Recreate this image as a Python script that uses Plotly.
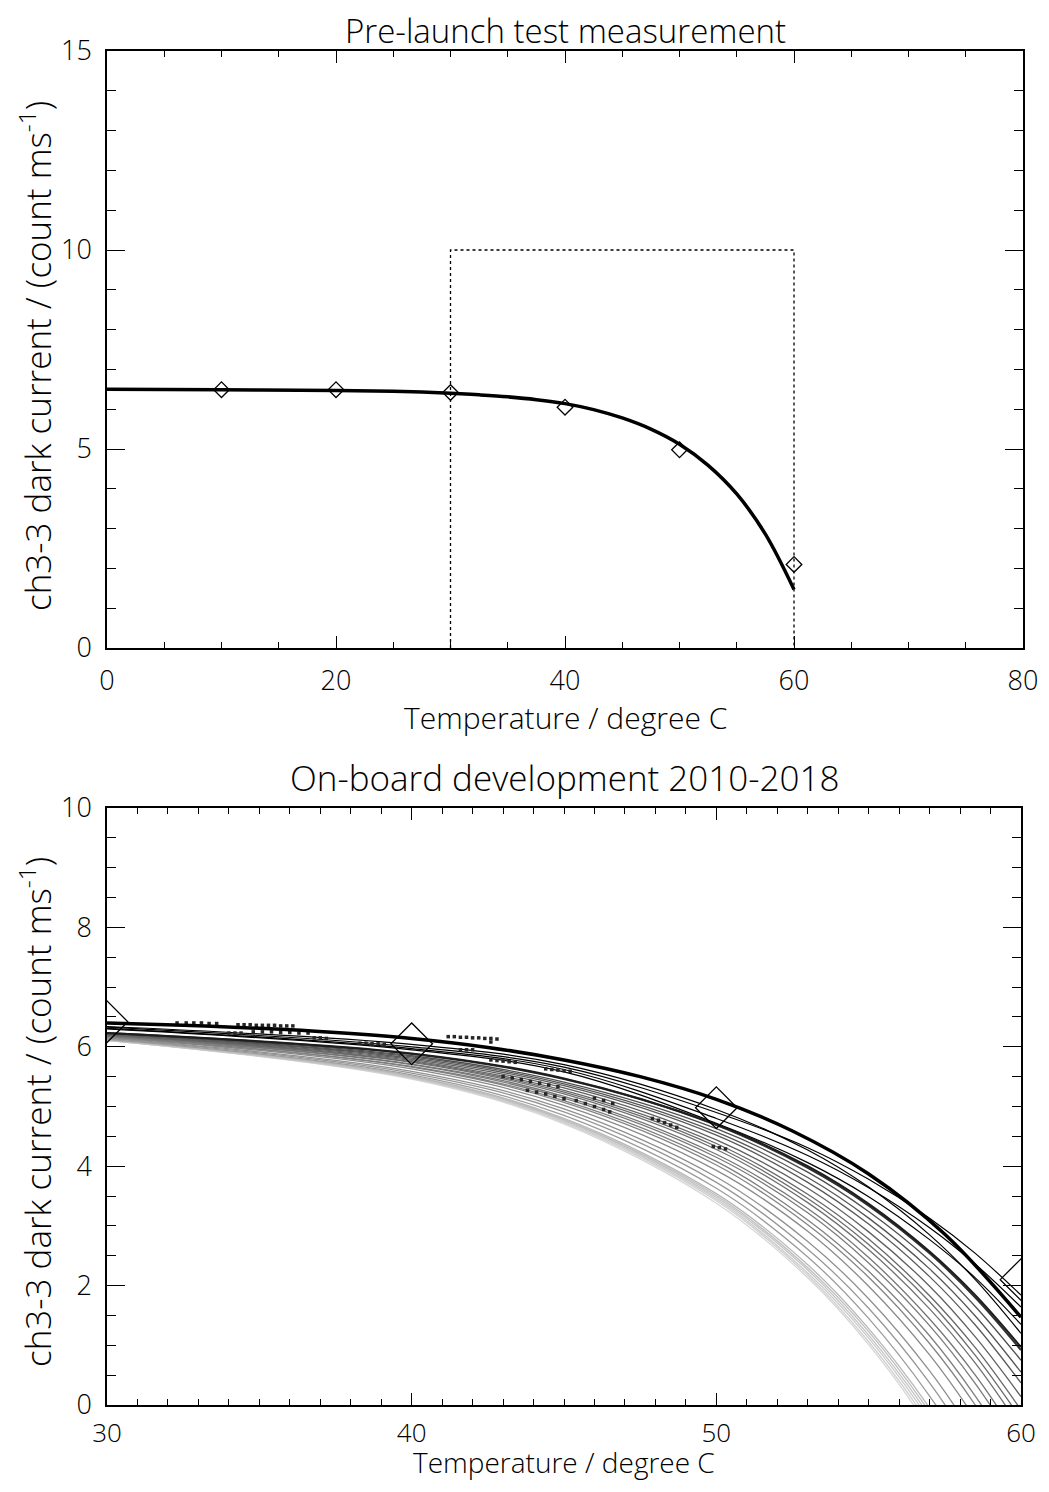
import plotly.graph_objects as go

# ---------------- data ----------------
# Pre-launch test measurement points
test_T = [10, 20, 30, 40, 50, 60]
test_v = [6.49, 6.49, 6.42, 6.05, 4.98, 2.10]

# Pre-launch fit curve
fit_T = [0, 10, 20, 25, 27.5, 30, 32.5, 35, 37.5, 40, 42.5, 45, 47.5, 50, 52.5, 55, 57.5, 60]
fit_v = [6.50, 6.49, 6.47, 6.45, 6.43, 6.40, 6.36, 6.31, 6.24, 6.14, 5.99, 5.78, 5.50, 5.12, 4.59, 3.87, 2.86, 1.47]

# Zoom box drawn on the top panel
box_T = [30, 30, 60, 60]
box_v = [0, 10, 10, 0]

# On-board fit curves 2010-2018 (light grey = latest ... black = earliest)
fam_T = [30, 40, 45, 50, 53, 55, 57, 58.5, 60]
v30 = [6.11, 6.11, 6.11, 6.11, 6.12, 6.12,
       6.13, 6.14, 6.15, 6.16, 6.17, 6.17, 6.18, 6.19, 6.19, 6.20, 6.20, 6.21, 6.22, 6.22, 6.23,
       6.23, 6.23, 6.30, 6.31, 6.33, 6.34]
v40 = [5.46, 5.47, 5.48, 5.49, 5.50, 5.51,
       5.53, 5.56, 5.59, 5.63, 5.66, 5.67, 5.70, 5.71, 5.74, 5.75, 5.77, 5.79, 5.81, 5.83, 5.85,
       5.88, 5.89, 5.95, 5.97, 6.00, 6.04]
v45 = [4.71, 4.73, 4.75, 4.77, 4.78, 4.80,
       4.85, 4.91, 4.96, 5.02, 5.07, 5.10, 5.14, 5.17, 5.21, 5.24, 5.27, 5.31, 5.35, 5.38, 5.41,
       5.46, 5.47, 5.58, 5.62, 5.66, 5.70]
v50 = [3.38, 3.42, 3.45, 3.48, 3.51, 3.54,
       3.63, 3.73, 3.82, 3.93, 4.02, 4.08, 4.15, 4.20, 4.28, 4.33, 4.38, 4.44, 4.52, 4.57, 4.63,
       4.69, 4.70, 4.72, 4.80, 4.90, 4.95]
v53 = [2.13, 2.17, 2.21, 2.26, 2.30, 2.35,
       2.48, 2.61, 2.74, 2.91, 3.02, 3.10, 3.22, 3.29, 3.39, 3.46, 3.53, 3.63, 3.73, 3.81, 3.90,
       3.97, 4.00, 4.06, 4.18, 4.31, 4.27]
v55 = [1.01, 1.06, 1.12, 1.17, 1.23, 1.28,
       1.45, 1.62, 1.78, 1.99, 2.14, 2.24, 2.38, 2.47, 2.60, 2.69, 2.78, 2.90, 3.03, 3.13, 3.24,
       3.34, 3.37, 3.49, 3.64, 3.78, 3.65]
v57 = [-0.40, -0.33, -0.26, -0.19, -0.12, -0.05,
       0.15, 0.37, 0.57, 0.84, 1.03, 1.16, 1.33, 1.44, 1.61, 1.73, 1.83, 1.99, 2.15, 2.28, 2.42,
       2.54, 2.57, 2.77, 2.97, 3.13, 2.85]
v585 = [-1.71, -1.62, -1.54, -1.45, -1.37, -1.29,
        -1.04, -0.79, -0.55, -0.23, 0.00, 0.15, 0.36, 0.50, 0.70, 0.83, 0.96, 1.14, 1.34, 1.49, 1.65,
        1.80, 1.84, 2.13, 2.36, 2.54, 2.10]
v60 = [-3.25, -3.15, -3.05, -2.95, -2.85, -2.75,
       -2.46, -2.16, -1.87, -1.49, -1.22, -1.04, -0.79, -0.63, -0.39, -0.23, -0.08, 0.14, 0.37, 0.55, 0.75,
       0.92, 0.97, 1.35, 1.64, 1.84, 1.20]
fam_colors = ['#d6d6d6', '#d0d0d0', '#cacaca', '#c4c4c4', '#bebebe', '#b8b8b8',
              '#9c9c9c', '#969696', '#909090', '#8a8a8a', '#848484', '#7f7f7f', '#7a7a7a', '#757575',
              '#707070', '#6b6b6b', '#666666', '#606060', '#5a5a5a', '#545454', '#4e4e4e',
              '#2e2e2e', '#1e1e1e', '#000000', '#000000', '#000000', '#000000']
fam_widths = [1.3] * 21 + [2.0, 2.0] + [1.2] * 4

# On-board measured dark-current samples (short dashes)
obs_T = [32.3, 32.6, 32.85, 33.1, 33.35, 33.6,
         34.3, 34.5, 34.7, 34.9, 35.1, 35.3, 35.5, 35.7, 35.9, 36.1,
         34.0, 34.2, 34.4,
         34.8, 35.1, 35.4, 35.7, 36.0, 36.3, 36.6,
         36.8, 37.0, 37.2,
         38.3, 38.5, 38.7, 38.9, 39.1,
         41.2, 41.4, 41.6, 41.8, 42.0, 42.2, 42.4, 42.6, 42.8, 42.6,
         41.6, 41.8, 42.0,
         42.6, 42.8, 43.0, 43.2, 43.4,
         44.4, 44.6, 44.8, 45.0, 45.2,
         43.0, 43.3, 43.6, 43.9, 44.2, 44.5, 44.8,
         43.8, 44.1, 44.4, 44.7, 45.0,
         45.4, 45.7, 46.0, 46.3, 46.5,
         46.0, 46.3, 46.6,
         47.9, 48.1, 48.3, 48.5, 48.7,
         49.9, 50.1, 50.3]
obs_v = [6.40, 6.40, 6.40, 6.40, 6.39, 6.39,
         6.37, 6.37, 6.37, 6.36, 6.36, 6.36, 6.36, 6.35, 6.35, 6.35,
         6.23, 6.23, 6.23,
         6.25, 6.25, 6.25, 6.24, 6.24, 6.23, 6.23,
         6.15, 6.15, 6.14,
         6.06, 6.06, 6.05, 6.05, 6.04,
         6.17, 6.17, 6.16, 6.16, 6.15, 6.15, 6.14, 6.14, 6.13, 6.08,
         5.95, 5.95, 5.95,
         5.78, 5.77, 5.76, 5.75, 5.74,
         5.63, 5.62, 5.61, 5.60, 5.59,
         5.50, 5.48, 5.45, 5.42, 5.39, 5.36, 5.33,
         5.27, 5.24, 5.21, 5.17, 5.13,
         5.10, 5.05, 5.00, 4.95, 4.91,
         5.14, 5.10, 5.05,
         4.80, 4.77, 4.73, 4.69, 4.65,
         4.33, 4.31, 4.29]

# ---------------- figure ----------------
# page body has an 8px margin, so the figure is a little smaller and offset
OFF = 8
W, H = 1049 - OFF, 1492 - 2 * OFF - 2
FONT = "Open Sans"
WEIGHT = 300

def px_x(p):
    return (p - OFF) / W

def px_y(p):
    return 1 - (p - OFF) / H

fig = go.Figure()

# top panel
fig.add_trace(go.Scatter(x=box_T, y=box_v, mode='lines',
                         line=dict(color='black', width=1.3, dash='dot'),
                         xaxis='x', yaxis='y', showlegend=False, hoverinfo='skip'))
fig.add_trace(go.Scatter(x=fit_T, y=fit_v, mode='lines', line_shape='spline',
                         line=dict(color='black', width=3.5),
                         xaxis='x', yaxis='y', showlegend=False))
fig.add_trace(go.Scatter(x=test_T, y=test_v, mode='markers',
                         marker=dict(symbol='diamond-open', size=12, color='black',
                                     line=dict(width=1.3, color='black')),
                         xaxis='x', yaxis='y', showlegend=False))

# bottom panel: family of on-board curves
cols = list(zip(v30, v40, v45, v50, v53, v55, v57, v585, v60))
for vals, c, w in zip(cols, fam_colors, fam_widths):
    fig.add_trace(go.Scatter(x=fam_T, y=list(vals), mode='lines', line_shape='spline',
                             line=dict(color=c, width=w),
                             xaxis='x2', yaxis='y2', showlegend=False))

fig.add_trace(go.Scatter(x=obs_T, y=obs_v, mode='markers',
                         marker=dict(symbol='square', size=3.5, color='#262626'),
                         xaxis='x2', yaxis='y2', showlegend=False))

fit_T2 = [t for t in fit_T if t >= 30]
fit_v2 = [v for t, v in zip(fit_T, fit_v) if t >= 30]
fig.add_trace(go.Scatter(x=fit_T2, y=fit_v2, mode='lines', line_shape='spline',
                         line=dict(color='black', width=3.5),
                         xaxis='x2', yaxis='y2', showlegend=False))
fig.add_trace(go.Scatter(x=[t for t in test_T if t >= 30], y=[v for t, v in zip(test_T, test_v) if t >= 30],
                         mode='markers',
                         marker=dict(symbol='diamond-open', size=32, color='black',
                                     line=dict(width=1.3, color='black')),
                         xaxis='x2', yaxis='y2', showlegend=False))


def axis(rng, tickvals, minor_dtick, tlen, mlen, domain, anchor, fsize=27, standoff=8):
    return dict(range=rng, domain=domain, anchor=anchor, showline=True, linecolor='black',
                linewidth=1.5, mirror='allticks', ticks='inside', tickvals=tickvals,
                ticklen=tlen, tickwidth=1.2, tickcolor='black', automargin=False,
                minor=dict(ticks='inside', ticklen=mlen, dtick=minor_dtick, tick0=0,
                           tickcolor='black', tickwidth=1.2, showgrid=False),
                showgrid=False, zeroline=False, ticklabelstandoff=standoff,
                tickfont=dict(family=FONT, weight=WEIGHT, size=fsize, color='black'))

xd = [px_x(107), px_x(1023)]
xd2 = [px_x(107), px_x(1021)]
yd = [px_y(648), px_y(51)]
yd2 = [px_y(1405), px_y(808)]

fig.update_layout(
    width=W, height=H, margin=dict(l=0, r=0, t=0, b=0, pad=0, autoexpand=False),
    paper_bgcolor='white', plot_bgcolor='white',
    xaxis=axis([0, 80], [0, 20, 40, 60, 80], 5, 12, 6, xd, 'y'),
    yaxis=axis([0, 15], [0, 5, 10, 15], 1, 18, 9, yd, 'x'),
    xaxis2=axis([30, 60], [30, 40, 50, 60], 1, 12, 6, xd2, 'y2', fsize=26, standoff=4),
    yaxis2=axis([0, 10], [0, 2, 4, 6, 8, 10], 0.5, 18, 9, yd2, 'x2'),
)

ann = [
    dict(text='Pre-launch test measurement', x=px_x(565), y=px_y(31), size=33, angle=0),
    dict(text='Temperature / degree C', x=px_x(565), y=px_y(718), size=30, angle=0),
    dict(text='ch3-3 dark current / (count ms<sup>-1</sup>)', x=px_x(35), y=px_y(356), size=35, angle=-90),
    dict(text='On-board development 2010-2018', x=px_x(564), y=px_y(777), size=35, angle=0),
    dict(text='Temperature / degree C', x=px_x(564), y=px_y(1462), size=28, angle=0),
    dict(text='ch3-3 dark current / (count ms<sup>-1</sup>)', x=px_x(35), y=px_y(1112), size=35, angle=-90),
]
fig.update_layout(annotations=[
    dict(text=a['text'], x=a['x'], y=a['y'], xref='paper', yref='paper', showarrow=False,
         xanchor='center', yanchor='middle', textangle=a['angle'],
         font=dict(family=FONT, weight=WEIGHT, size=a['size'], color='black'))
    for a in ann])

fig.write_html("out.html")
